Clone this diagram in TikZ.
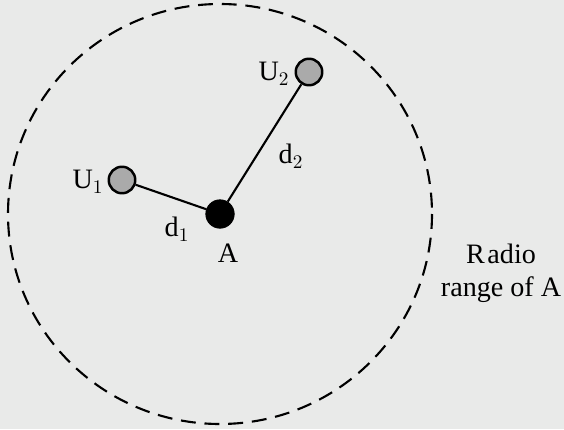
\documentclass[tikz,border=0pt]{standalone}
\usepackage{fontspec}
\setmainfont{Liberation Serif}
\definecolor{paper}{RGB}{233,234,233}
\definecolor{userfill}{RGB}{170,170,170}
\tikzset{
  user/.style={draw, circle, fill=userfill, line width=1.4pt, minimum size=0.53cm, inner sep=0pt},
  hub/.style={draw, circle, fill=black, minimum size=0.57cm, inner sep=0pt},
  lbl/.style={font=\fontsize{16}{19}\selectfont},
  link/.style={line width=1.2pt}
}
\begin{document}
\begin{tikzpicture}[x=0.02cm, y=-0.02cm]
        \useasboundingbox[fill=paper] (0,0) rectangle (564,429);
        
        % Nodes
        \node[hub] (A) at (220,214) {};
        \node[user] (U1) at (122,180) {};
        \node[user] (U2) at (309,72) {};
        
        % Radio range
        \draw[line width=1.2pt, dash pattern=on 8.5pt off 5pt] (A.center) ellipse [x radius=212, y radius=210];
        \node[lbl, align=center] (range) at (501,273) {R\kern1.5pt adio\\range of A};
        
        % Links
        \draw[link] (A) -- (U1);
        \draw[link] (A) -- (U2);
        
        % Labels
        \node[lbl] (Alabel) at (228,253) {A};
        \node[lbl] (U1label) at (88,182) {U$_1$};
        \node[lbl] (U2label) at (274,74) {U$_2$};
        \node[lbl] (d1label) at (177,229) {d$_1$};
        \node[lbl] (d2label) at (291,156) {d$_2$};
    \end{tikzpicture}
\end{document}
